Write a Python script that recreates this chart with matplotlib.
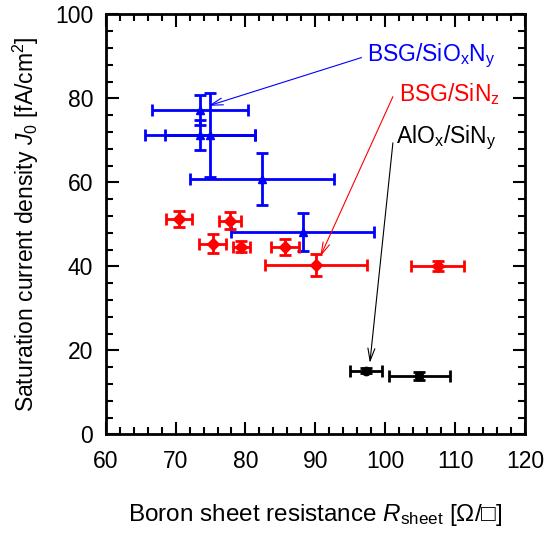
import matplotlib
matplotlib.use('Agg')
import matplotlib.pyplot as plt
from matplotlib.ticker import MultipleLocator

plt.rcParams['font.family'] = ['Liberation Sans', 'DejaVu Sans']
plt.rcParams['mathtext.fontset'] = 'custom'
plt.rcParams['mathtext.rm'] = 'Liberation Sans'
plt.rcParams['mathtext.it'] = 'Liberation Sans:italic'

# BSG/SiOxNy
blue_x = [73.5, 73.5, 74.9, 82.3, 88.2]
blue_y = [77.2, 71.3, 71.3, 60.8, 48.1]
blue_xerr = [6.9, 7.9, 6.4, 10.3, 10.2]
blue_yerr = [3.5, 3.6, 10.0, 6.2, 4.5]

# BSG/SiNz
red_x = [70.5, 77.8, 75.3, 79.4, 85.7, 90.1, 107.5]
red_y = [51.2, 50.9, 45.4, 44.7, 44.6, 40.4, 40.1]
red_xerr = [1.9, 1.55, 1.9, 1.2, 2.0, 7.35, 3.8]
red_yerr = [1.9, 2.0, 2.3, 1.3, 2.0, 2.6, 1.2]

# AlOx/SiNy
black_x = [97.3, 104.9]
black_y = [15.1, 13.9]
black_xerr = [2.3, 4.35]
black_yerr = [0.6, 1.0]

fig = plt.figure(figsize=(5.46, 5.34), dpi=100)
ax = fig.add_axes([0.1936, 0.1867, 0.7679, 0.7865])

ax.errorbar(blue_x, blue_y, xerr=blue_xerr, yerr=blue_yerr, fmt='^', color='#0000ff',
            ms=5.5, elinewidth=2, capsize=4.5, capthick=2)
ax.errorbar(red_x, red_y, xerr=red_xerr, yerr=red_yerr, fmt='D', color='#ff0000',
            ms=6, elinewidth=2, capsize=4.5, capthick=2)
ax.errorbar(black_x, black_y, xerr=black_xerr, yerr=black_yerr, fmt='o', color='black',
            ms=6, elinewidth=2, capsize=4.5, capthick=2)

arrow = '->,head_length=0.9,head_width=0.25'
ax.annotate('', xy=(74.7, 78.2), xytext=(96.6, 89.7),
            arrowprops=dict(arrowstyle=arrow, color='#0000ff', lw=0.8, shrinkA=0, shrinkB=0))
ax.annotate('', xy=(90.7, 42.3), xytext=(101.1, 80.4),
            arrowprops=dict(arrowstyle=arrow, color='#ff0000', lw=0.8, shrinkA=0, shrinkB=0))
ax.annotate('', xy=(97.8, 17.0), xytext=(101.1, 69.4),
            arrowprops=dict(arrowstyle=arrow, color='black', lw=0.8, shrinkA=0, shrinkB=0))

ax.text(97.4, 88.9, r'BSG/SiO$_\mathregular{x}$N$_\mathregular{y}$', color='#0000ff',
        fontsize=16.5, va='baseline')
ax.text(102.0, 79.4, r'BSG/SiN$_\mathregular{z}$', color='#ff0000',
        fontsize=16.5, va='baseline')
ax.text(101.6, 69.4, r'AlO$_\mathregular{x}$/SiN$_\mathregular{y}$', color='black',
        fontsize=16.5, va='baseline')

ax.set_xlim(60, 120)
ax.set_ylim(0, 100)
ax.xaxis.set_major_locator(MultipleLocator(10))
ax.xaxis.set_minor_locator(MultipleLocator(2))
ax.yaxis.set_major_locator(MultipleLocator(20))
ax.yaxis.set_minor_locator(MultipleLocator(4))
ax.tick_params(which='both', direction='in', top=True, right=True, width=1.5, labelsize=16.5)
ax.tick_params(which='major', length=9)
ax.tick_params(which='minor', length=5)
ax.tick_params(axis='x', which='major', pad=11)
ax.tick_params(axis='y', which='major', pad=9)
for s in ax.spines.values():
    s.set_linewidth(2)

ax.set_xlabel(r'Boron sheet resistance $R_\mathregular{sheet}$ [Ω/□]', fontsize=17.5, labelpad=21)
ax.set_ylabel(r'Saturation current density $J_\mathregular{0}$ [fA/cm$^\mathregular{2}$]',
              fontsize=16.5, labelpad=10)

fig.savefig('out.png', dpi=100)
